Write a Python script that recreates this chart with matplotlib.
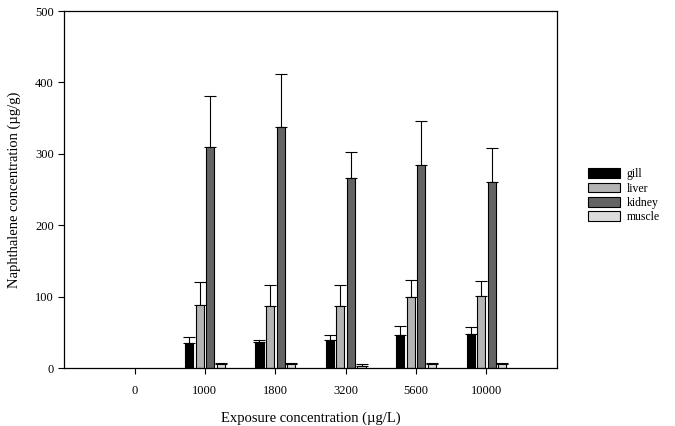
import matplotlib.pyplot as plt
from matplotlib.patches import Patch
import numpy as np

plt.rcParams['font.family'] = ['Liberation Serif', 'DejaVu Serif']

# Data
categories = ["0", "1000", "1800", "3200", "5600", "10000"]
tissues = ["gill", "liver", "kidney", "muscle"]
gill = [0, 35, 36, 40, 46, 48]
gill_err = [0, 8, 4, 7, 13, 9]
liver = [0, 89, 87, 87, 99, 101]
liver_err = [0, 32, 29, 29, 25, 21]
kidney = [0, 310, 338, 266, 285, 261]
kidney_err = [0, 71, 74, 37, 61, 47]
muscle = [0, 5, 5, 3, 5, 5]
muscle_err = [0, 2, 2, 2, 2, 2]

colors = ["#000000", "#b4b4b4", "#646464", "#dcdcdc"]

fig = plt.figure(figsize=(6.75, 4.26), dpi=100)
ax = fig.add_axes([0.095, 0.136, 0.730, 0.838])

x = np.arange(len(categories))
width = 0.115
step = 0.15
series = [(gill, gill_err), (liver, liver_err), (kidney, kidney_err), (muscle, muscle_err)]
for i, (vals, errs) in enumerate(series):
    vals = np.array(vals, dtype=float)
    errs = np.array(errs, dtype=float)
    pos = x + (i - 1.5) * step
    # the 0 group has no visible bars in the original
    lw = [0.8 if v > 0 else 0 for v in vals]
    ax.bar(pos, vals, width, color=colors[i], edgecolor="black", linewidth=lw, zorder=2)
    m = vals > 0
    ax.errorbar(pos[m], vals[m], yerr=[np.zeros(m.sum()), errs[m]], fmt="none",
                ecolor="black", elinewidth=0.8, capsize=4, capthick=0.8, zorder=1)

ax.set_xlim(-1, 6)
ax.set_ylim(0, 500)
ax.set_xticks(x)
ax.set_xticklabels(categories)
ax.set_yticks([0, 100, 200, 300, 400, 500])
ax.tick_params(axis="both", direction="out", labelsize=9, length=4, width=0.8)
ax.tick_params(axis="x", pad=8)
for s in ax.spines.values():
    s.set_linewidth(0.9)

ax.set_xlabel("Exposure concentration (µg/L)", fontsize=10.5, labelpad=11)
ax.set_ylabel("Naphthalene concentration (µg/g)", fontsize=10.5, labelpad=10)

handles = [Patch(facecolor=c, edgecolor="black", linewidth=0.8) for c in colors]
ax.legend(handles, tissues, loc="upper left", bbox_to_anchor=(0.855, 0.63),
          bbox_transform=fig.transFigure, frameon=False, fontsize=8.5,
          handlelength=2.7, handleheight=0.9, labelspacing=0.2, handletextpad=0.6)

fig.savefig("out.png", dpi=100)
